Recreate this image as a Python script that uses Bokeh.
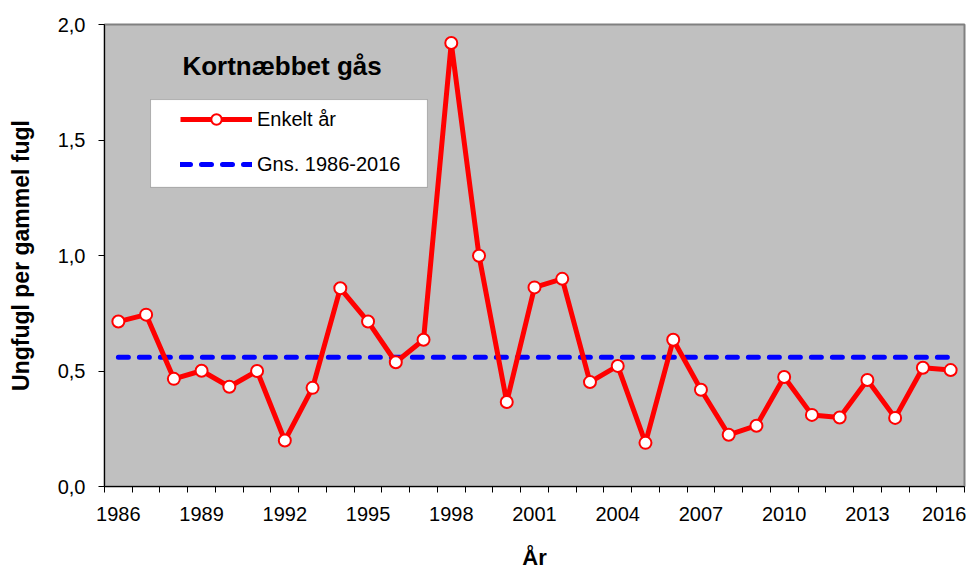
from bokeh.plotting import figure
from bokeh.models import (Range1d, FixedTicker, CustomJSTickFormatter, Legend, LegendItem,
                          Label, BoxAnnotation)
from bokeh.embed import file_html
from bokeh.resources import INLINE

# ---- data ----
years = list(range(1986, 2017))
values = [0.714, 0.744, 0.466, 0.501, 0.432, 0.500, 0.199, 0.427, 0.858, 0.714,
          0.538, 0.635, 1.920, 0.999, 0.366, 0.862, 0.899, 0.452, 0.522, 0.189,
          0.635, 0.419, 0.224, 0.263, 0.474, 0.310, 0.299, 0.461, 0.297, 0.514,
          0.504]
avg_years = [1986, 2016]
avg_values = [0.559, 0.559]
x_tick_years = [1986, 1989, 1992, 1995, 1998, 2001, 2004, 2007, 2010, 2013, 2016]
y_ticks = [0.0, 0.5, 1.0, 1.5, 2.0]
title_text = "Kortnæbbet gås"
series_label = "Enkelt år"
avg_label = "Gns. 1986-2016"
x_title = "År"
y_title = "Ungfugl per gammel fugl"

FONT = "Liberation Sans"

p = figure(width=966, height=572, output_backend="svg", toolbar_location=None,
           x_range=Range1d(years[0] - 0.5, years[-1] + 0.5), y_range=Range1d(0, 2),
           min_border_left=104, min_border_right=2, min_border_top=24, min_border_bottom=85)
p.background_fill_color = "#C0C0C0"
p.border_fill_color = "white"
p.outline_line_color = "#808080"
p.outline_line_width = 2
p.xgrid.visible = False
p.ygrid.visible = False

# x axis
xa = p.xaxis[0]
xa.ticker = FixedTicker(ticks=x_tick_years,
                        minor_ticks=[y - 0.5 for y in years] + [years[-1] + 0.5])
xa.major_tick_out = 0
xa.major_tick_in = 0
xa.minor_tick_out = 6
xa.minor_tick_in = 0
xa.minor_tick_line_color = "black"
xa.axis_line_color = "black"
xa.major_label_standoff = 14
xa.major_label_text_font = FONT
xa.major_label_text_font_size = "20px"
xa.major_label_text_color = "black"
xa.axis_label = x_title
xa.axis_label_text_font = FONT
xa.axis_label_text_font_style = "bold"
xa.axis_label_text_font_size = "22px"
xa.axis_label_text_color = "black"
xa.axis_label_standoff = 21

# y axis
ya = p.yaxis[0]
ya.ticker = FixedTicker(ticks=y_ticks)
ya.formatter = CustomJSTickFormatter(code="return tick.toFixed(1).replace('.', ',');")
ya.major_tick_out = 6
ya.major_tick_in = 0
ya.minor_tick_out = 0
ya.minor_tick_in = 0
ya.axis_line_color = "black"
ya.major_tick_line_color = "black"
ya.major_label_standoff = 13
ya.major_label_text_font = FONT
ya.major_label_text_font_size = "20px"
ya.major_label_text_color = "black"
ya.axis_label = y_title
ya.axis_label_text_font = FONT
ya.axis_label_text_font_style = "bold"
ya.axis_label_text_font_size = "23px"
ya.axis_label_text_color = "black"
ya.axis_label_standoff = 21

# legend frame
box = BoxAnnotation(left=1987.16, right=1997.14, bottom=1.295, top=1.675,
                    fill_color="white", fill_alpha=1.0,
                    line_color="#404040", line_width=1, level="underlay")
p.add_layout(box)

# series
avg_r = p.line(avg_years, avg_values, line_color="#0000FF", line_width=5,
               line_dash="10 11", line_cap="round")
line_r = p.line(years, values, line_color="#FF0000", line_width=5, line_join="round")
pts_r = p.scatter(years, values, size=12, marker="circle", fill_color="white",
                  line_color="#FF0000", line_width=2)

legend = Legend(items=[LegendItem(label=series_label, renderers=[line_r, pts_r]),
                       LegendItem(label=avg_label, renderers=[avg_r])],
                location=(76, 309), orientation="vertical",
                padding=0, margin=0, spacing=19,
                glyph_width=72, glyph_height=26, label_height=26,
                label_standoff=5,
                label_text_font=FONT, label_text_font_size="20px",
                label_text_color="black",
                border_line_alpha=0, background_fill_alpha=0)
p.add_layout(legend)

title = Label(x=1991.9, y=1.82, text=title_text, text_align="center",
              text_baseline="middle", text_font=FONT, text_font_style="bold",
              text_font_size="26px", text_color="black")
p.add_layout(title)

open("out.html", "w").write(file_html(p, INLINE))
